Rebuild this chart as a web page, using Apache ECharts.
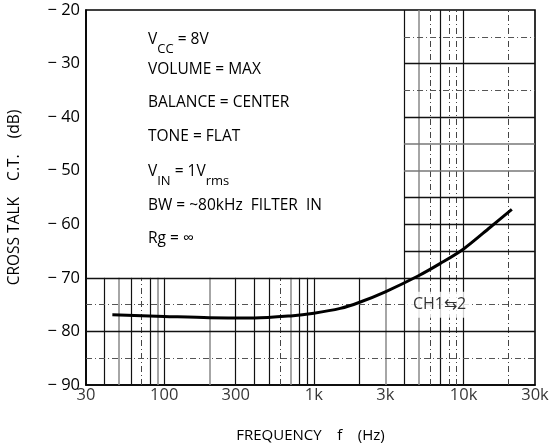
<!DOCTYPE html>
<html>
<head>
<meta charset="utf-8">
<script src="https://cdn.jsdelivr.net/npm/echarts@6/dist/echarts.min.js"></script>
<style>
html,body{margin:0;padding:0;background:#fff;}
#c{width:552px;height:446px;}
</style>
</head>
<body>
<div id="c"></div>
<script>
// ---- data ----
var freq = [45, 100, 200, 400, 700, 1000, 1500, 2000, 3000, 5000, 7000, 10000, 15000, 21000];
var crossTalk = [-76.9, -77.2, -77.45, -77.5, -77.1, -76.6, -75.7, -74.6, -72.6, -69.6, -67.3, -64.6, -60.6, -57.2];
var xTickValues = [30, 100, 300, 1000, 3000, 10000, 30000];
var xTickLabels = ['30', '100', '300', '1k', '3k', '10k', '30k'];
var yTickValues = [-90, -80, -70, -60, -50, -40, -30, -20];
var lowGridFreqs = [40, 50, 60, 70, 80, 90, 100, 200, 300, 400, 500, 600, 700, 800, 900, 1000, 2000, 3000];
var fullGridFreqs = [4000, 5000, 6000, 7000, 8000, 9000, 10000, 20000];
var fullGridLevels = [-70, -75, -80, -85];
var rightGridLevels = [-25, -30, -35, -40, -45, -50, -55, -60, -65];
var conditionLines = [
  '{a|V}{s|CC}{a| = 8V}',
  '{a|VOLUME = MAX}',
  '{a|BALANCE = CENTER}',
  '{a|TONE = FLAT}',
  '{a|V}{s|IN}{a| = 1V}{s|rms}',
  '{a|BW = ~80kHz  FILTER  IN}',
  '{a|Rg = ∞}'
];
var curveLabel = 'CH1⇆2';

// ---- styles ----
var FONT = '"Open Sans", "Noto Sans", sans-serif';
var dashDot = [6, 3, 1, 3];
var dashedF = {70: 1, 600: 1, 6000: 1, 8000: 1, 9000: 1, 20000: 1};
var greyF = {50: 1, 90: 1, 200: 1, 700: 1, 3000: 1, 5000: 1};
var dashedL = {'-75': 1, '-85': 1, '-25': 1, '-35': 1};
var greyL = {'-45': 1, '-50': 1};

function vStyle(f) {
  if (dashedF[f]) return {color: '#444', width: 1, type: dashDot};
  if (greyF[f]) return {color: '#888', width: 1.5, type: 'solid'};
  return {color: '#111', width: 1.2, type: 'solid'};
}
function hStyle(l) {
  if (dashedL[String(l)]) return {color: '#555', width: 1, type: dashDot};
  if (greyL[String(l)]) return {color: '#777', width: 1.5, type: 'solid'};
  return {color: '#111', width: 1.4, type: 'solid'};
}

var gridLines = [];
lowGridFreqs.forEach(function (f) {
  gridLines.push([{coord: [f, -90], lineStyle: vStyle(f)}, {coord: [f, -70]}]);
});
fullGridFreqs.forEach(function (f) {
  gridLines.push([{coord: [f, -90], lineStyle: vStyle(f)}, {coord: [f, -20]}]);
});
fullGridLevels.forEach(function (l) {
  gridLines.push([{coord: [30, l], lineStyle: hStyle(l)}, {coord: [30000, l]}]);
});
rightGridLevels.forEach(function (l) {
  gridLines.push([{coord: [4000, l], lineStyle: hStyle(l)}, {coord: [30000, l]}]);
});

var chart = echarts.init(document.getElementById('c'), null, {renderer: 'canvas'});

var graphics = conditionLines.map(function (t, i) {
  var ys = [32, 62, 95, 129, 164, 198, 231];
  return {
    type: 'text',
    left: 148,
    top: ys[i],
    z: 100,
    style: {
      text: t,
      rich: {
        a: {fontSize: 15.5, fontFamily: FONT, fill: '#000', lineHeight: 22, verticalAlign: 'bottom'},
        s: {fontSize: 13, fontFamily: FONT, fill: '#000', lineHeight: 22, verticalAlign: 'bottom', padding: [0, 0, -8, 0]}
      }
    }
  };
});

chart.setOption({
  animation: false,
  backgroundColor: '#fff',
  grid: {left: 86, right: 17, top: 10, bottom: 61, containLabel: false, outerBoundsMode: 'none',
    show: true, borderColor: '#000', borderWidth: 1.6, backgroundColor: 'transparent'},
  xAxis: {
    type: 'log', logBase: 10, min: 30, max: 30000,
    name: 'FREQUENCY    f    (Hz)', nameLocation: 'middle', nameGap: 43,
    nameTextStyle: {fontSize: 15, fontFamily: FONT, color: '#000'},
    axisLine: {show: true, lineStyle: {color: '#000', width: 1.6}},
    axisTick: {show: false}, axisLabel: {show: false}, splitLine: {show: false}, minorSplitLine: {show: false}
  },
  yAxis: {
    type: 'value', min: -90, max: -20, interval: 10,
    name: 'CROSS TALK    C.T.    (dB)', nameLocation: 'middle', nameGap: 63, nameRotate: 90,
    nameTextStyle: {fontSize: 15.5, fontFamily: FONT, color: '#000'},
    axisLine: {show: true, lineStyle: {color: '#000', width: 1.6}},
    axisTick: {show: false}, splitLine: {show: false},
    axisLabel: {fontSize: 16.5, fontFamily: FONT, color: '#000', margin: 6,
      formatter: function (v) { return yTickValues.indexOf(v) >= 0 ? '− ' + Math.abs(v) : ''; }}
  },
  graphic: graphics,
  series: [
    {
      type: 'line', data: [], silent: true,
      markLine: {silent: true, symbol: ['none', 'none'], label: {show: false}, animation: false, data: gridLines}
    },
    {
      type: 'scatter', symbolSize: 0, silent: true, clip: false,
      data: xTickValues.map(function (v, i) { return {value: [v, -90], label: {formatter: xTickLabels[i]}}; }),
      label: {show: true, position: 'bottom', distance: 2, fontSize: 16.5, fontFamily: FONT, color: '#000'}
    },
    {
      type: 'line', smooth: 0.3, symbol: 'none', z: 5,
      data: freq.map(function (f, i) { return [f, crossTalk[i]]; }),
      lineStyle: {color: '#000', width: 3}
    },
    {
      type: 'scatter', symbolSize: 0, silent: true, z: 6,
      data: [{value: [6900, -75], label: {formatter: curveLabel}}],
      label: {show: true, position: 'inside', fontSize: 16, fontFamily: FONT, color: '#000',
        backgroundColor: '#fff', padding: [5, 6, 5, 6]}
    }
  ]
});
</script>
</body>
</html>
